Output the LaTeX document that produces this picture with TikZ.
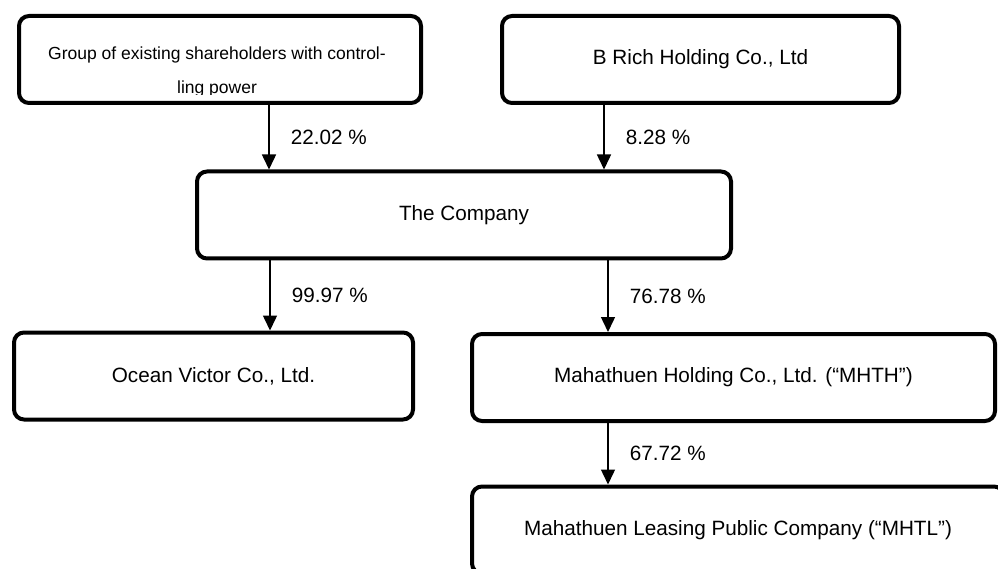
\documentclass[tikz,border=0pt]{standalone}
\usepackage{fontspec}
\setmainfont{Liberation Sans}
\usetikzlibrary{arrows.meta}

\begin{document}
\begin{tikzpicture}[x=1pt, y=-1pt,
  box/.style={draw, line width=4pt, rounded corners=10pt, minimum height=87pt, inner sep=0pt},
  link/.style={line width=1.5pt, -{Triangle[width=14pt,length=15pt]}},
  pct/.style={right=21pt, inner sep=0pt},
  font=\fontsize{20.7}{24}\selectfont]
\clip (0,0) rectangle (998,569);
\node[box, minimum width=402pt] (grp) at (220,59.5) {};
\begin{scope}
\clip (grp.north west) rectangle ([yshift=10pt]grp.south east);
\node[inner sep=0pt, align=center, font=\fontsize{17.5}{34}\selectfont] (grptext) at (217,72) {Group of existing shareholders with control-\\ling power};
\end{scope}
\node[box, minimum width=397pt] (brich) at (700.5,59.5) {B Rich Holding Co., Ltd};
\node[box, minimum width=534pt] (company) at (464,215) {The Company};
\node[box, minimum width=399pt] (ocean) at (213.5,376) {Ocean Victor Co., Ltd.};
\node[box, minimum width=523pt] (mhth) at (733.5,377.5) {Mahathuen Holding Co., Ltd. (“MHTH”)};
\node[box, minimum width=532pt] (mhtl) at (738,530) {Mahathuen Leasing Public Company (“MHTL”)};
\draw[link] ([xshift=49pt]grp.south) -- ([xshift=49pt]grp.south |- company.north) node[midway, pct] {22.02 \%};
\draw[link] ([xshift=-96.5pt]brich.south) -- ([xshift=-96.5pt]brich.south |- company.north) node[midway, pct] {8.28 \%};
\draw[link] ([xshift=-194pt]company.south) -- ([xshift=-194pt]company.south |- ocean.north) node[midway, pct] {99.97 \%};
\draw[link] ([xshift=144pt]company.south) -- ([xshift=144pt]company.south |- mhth.north) node[midway, pct] {76.78 \%};
\draw[link] ([xshift=-125.5pt]mhth.south) -- ([xshift=-125.5pt]mhth.south |- mhtl.north) node[midway, pct] {67.72 \%};
\end{tikzpicture}
\end{document}
